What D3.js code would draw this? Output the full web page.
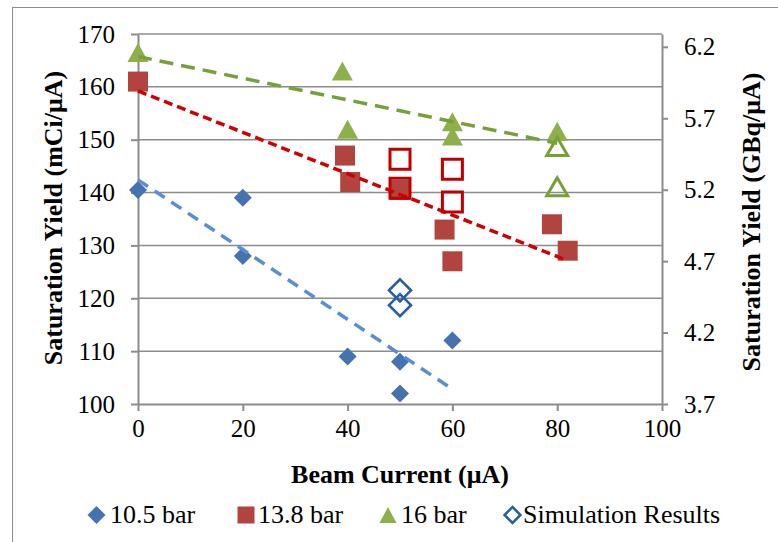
<!DOCTYPE html>
<html>
<head>
<meta charset="utf-8">
<script src="https://cdn.jsdelivr.net/npm/d3@7"></script>
<style>
  html, body { margin: 0; padding: 0; background: #fff; }
  svg { display: block; }
  text { font-family: "Liberation Serif", "Times New Roman", serif; fill: #000; }
</style>
</head>
<body>
<svg id="chart" width="778" height="542"></svg>
<script>
// Saturation yield vs beam current, three target pressures plus simulation
const xTicks = [0, 20, 40, 60, 80, 100];
const yTicksLeft = [100, 110, 120, 130, 140, 150, 160, 170];
const yTicksRight = [3.7, 4.2, 4.7, 5.2, 5.7, 6.2];
const mCiToGBq = 0.037;

// 10.5 bar measurements
const bar105X = [0, 20, 20, 40, 50, 50, 60];
const bar105Y = [140.5, 139, 128, 109, 108, 102, 112];
// 13.8 bar measurements
const bar138X = [0, 39.5, 40.5, 50, 58.5, 60, 79, 82];
const bar138Y = [161, 147, 142, 140.5, 133, 127, 134, 129];
// 16 bar measurements
const bar16X = [0, 39, 40, 60, 60, 80];
const bar16Y = [166.5, 163, 152, 153.4, 150.7, 151.6];
// simulation results (by pressure)
const sim105X = [50, 50];
const sim105Y = [121.5, 118.7];
const sim138X = [50, 50, 60, 60];
const sim138Y = [146.3, 140.8, 144.4, 138.2];
const sim16X = [80, 80];
const sim16Y = [148.7, 141.1];

const legendLabels = ["10.5 bar", "13.8 bar", "16 bar", "Simulation Results"];

const C = {
  blue: "#4672B0", red: "#B1443F", green: "#8DB04C",
  simBlue: "#2C5D9F", simRed: "#C00000", simGreen: "#78A03A",
  trendBlue: "#5A8DD3", trendRed: "#D00000", trendGreen: "#77A03A",
  grid: "#8C8C8C"
};

const svg = d3.select("#chart");
const x = d3.scaleLinear().domain([0, 100]).range([138, 662]);
const y = d3.scaleLinear().domain([100, 170]).range([404, 34]);
const y2 = d3.scaleLinear().domain([100 * mCiToGBq, 170 * mCiToGBq]).range([404, 34]);

// outer chart frame
svg.append("rect").attr("x", 12.5).attr("y", 7.5).attr("width", 800).attr("height", 600)
  .attr("fill", "none").attr("stroke", "#8C8C8C").attr("stroke-width", 1);

// horizontal gridlines
svg.append("g").selectAll("line").data(yTicksLeft.slice(1)).join("line")
  .attr("x1", x(0)).attr("x2", x(100))
  .attr("y1", d => y(d)).attr("y2", d => y(d))
  .attr("stroke", C.grid).attr("stroke-width", 1.5);

const fontSize = 25;
function styleAxis(g) {
  g.attr("font-family", null);
  g.select(".domain").attr("stroke", C.grid).attr("stroke-width", 2);
  g.selectAll(".tick line").attr("stroke", C.grid).attr("stroke-width", 2);
  g.selectAll(".tick text").attr("font-size", fontSize).attr("fill", "#000");
}

const gx = svg.append("g").attr("transform", `translate(0,${y(100)})`)
  .call(d3.axisBottom(x).tickValues(xTicks).tickSize(7).tickSizeOuter(0).tickPadding(8).tickFormat(d3.format("d")));
styleAxis(gx);

const gy = svg.append("g").attr("transform", `translate(${x(0)},0)`)
  .call(d3.axisLeft(y).tickValues(yTicksLeft).tickSize(7).tickSizeOuter(0).tickPadding(16).tickFormat(d3.format("d")));
styleAxis(gy);

const gy2 = svg.append("g").attr("transform", `translate(${x(100)},0)`)
  .call(d3.axisRight(y2).tickValues(yTicksRight).tickSize(6).tickSizeOuter(0).tickPadding(16).tickFormat(d3.format(".1f")));
styleAxis(gy2);

// marker shapes centred on the origin
const shape = {
  diamond: r => `M0,${-r}L${r},0L0,${r}L${-r},0Z`,
  square: r => `M${-r},${-r}H${r}V${r}H${-r}Z`,
  triangle: (w, h) => `M0,${-h / 2}L${w / 2},${h / 2}L${-w / 2},${h / 2}Z`
};

function zipXY(xs, ys) { return xs.map((v, i) => ({ x: v, y: ys[i] })); }

function drawMarkers(data, path, fill, stroke, sw) {
  svg.append("g").selectAll("path").data(data).join("path")
    .attr("d", path)
    .attr("transform", d => `translate(${x(d.x)},${y(d.y)})`)
    .attr("fill", fill).attr("stroke", stroke).attr("stroke-width", sw)
    .attr("stroke-linejoin", "miter");
}

// filled markers (measurements)
drawMarkers(zipXY(bar105X, bar105Y), shape.diamond(9), C.blue, "none", 0);
drawMarkers(zipXY(bar138X, bar138Y), shape.square(10), C.red, "none", 0);
drawMarkers(zipXY(bar16X, bar16Y), shape.triangle(21, 19), C.green, "none", 0);

// linear least-squares trendlines
function fit(xs, ys) {
  const mx = d3.mean(xs), my = d3.mean(ys);
  const sxy = d3.sum(xs, (v, i) => (v - mx) * (ys[i] - my));
  const sxx = d3.sum(xs, v => (v - mx) * (v - mx));
  const b = sxy / sxx, a = my - b * mx;
  const [x0, x1] = d3.extent(xs);
  return [{ x: x0, y: a + b * x0 }, { x: x1, y: a + b * x1 }];
}
const line = d3.line().x(d => x(d.x)).y(d => y(d.y));
function drawTrend(xs, ys, color, dash) {
  svg.append("path").datum(fit(xs, ys)).attr("d", line)
    .attr("fill", "none").attr("stroke", color).attr("stroke-width", 3.5)
    .attr("stroke-dasharray", dash);
}
drawTrend(bar105X, bar105Y, C.trendBlue, "12,8");
drawTrend(bar138X, bar138Y, C.trendRed, "9,5");
drawTrend(bar16X, bar16Y, C.trendGreen, "14,8");

// open markers (simulation)
drawMarkers(zipXY(sim105X, sim105Y), shape.diamond(11), "none", C.simBlue, 2.6);
drawMarkers(zipXY(sim138X, sim138Y), shape.square(10), "none", C.simRed, 3);
drawMarkers(zipXY(sim16X, sim16Y), shape.triangle(21, 18), "none", C.simGreen, 3);

// axis titles
svg.append("text").attr("x", x(50)).attr("y", 482.5).attr("text-anchor", "middle")
  .attr("font-size", 26).attr("font-weight", "bold").text("Beam Current (μA)");
svg.append("text").attr("transform", "translate(61.5,218) rotate(-90)").attr("text-anchor", "middle")
  .attr("font-size", 26).attr("font-weight", "bold").text("Saturation Yield (mCi/μA)");
svg.append("text").attr("transform", "translate(760,222) rotate(-90)").attr("text-anchor", "middle")
  .attr("font-size", 26).attr("font-weight", "bold").text("Saturation Yield (GBq/μA)");

// legend
const legendItems = [
  { mx: 96.5, tx: 110, path: shape.diamond(9), fill: C.blue, stroke: "none", sw: 0 },
  { mx: 246, tx: 258, path: shape.square(8.5), fill: C.red, stroke: "none", sw: 0 },
  { mx: 388, tx: 401, path: shape.triangle(17, 16), fill: C.green, stroke: "none", sw: 0 },
  { mx: 512.5, tx: 523, path: shape.diamond(8), fill: "none", stroke: C.simBlue, sw: 2.5 }
];
const lg = svg.append("g");
legendItems.forEach((it, i) => {
  lg.append("path").attr("d", it.path).attr("transform", `translate(${it.mx},515)`)
    .attr("fill", it.fill).attr("stroke", it.stroke).attr("stroke-width", it.sw);
  lg.append("text").attr("x", it.tx).attr("y", 523).attr("font-size", 26).text(legendLabels[i]);
});
</script>
</body>
</html>
